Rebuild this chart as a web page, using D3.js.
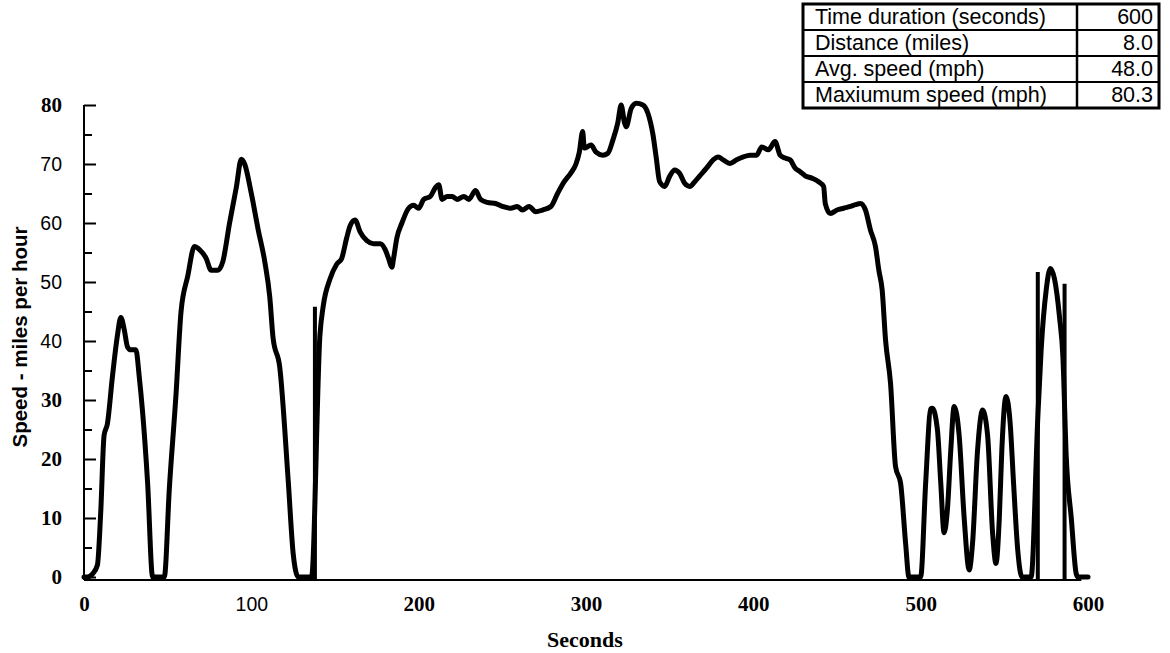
<!DOCTYPE html>
<html>
<head>
<meta charset="UTF-8">
<title>Speed trace</title>
<style>
    body { margin: 0; background: #fff; }
    svg { display: block; background: #fff; }
    .trace { fill: none; stroke: #000; stroke-width: 5px; stroke-linejoin: round; stroke-linecap: round; }
    .spike { stroke: #000; stroke-width: 4px; }
    .axis path, .axis line { stroke: #000; stroke-width: 2px; }
    .serif { font-family: "Liberation Serif", "Times New Roman", serif; font-weight: bold; }
    .sans { font-family: "Liberation Sans", Arial, sans-serif; }
</style>
</head>
<body>
<script src="https://cdnjs.cloudflare.com/ajax/libs/d3/7.8.5/d3.min.js"></script>
<script>
// speed trace
var seconds = [0, 2, 5, 8, 10, 12, 14, 17, 20, 22, 24, 26, 28, 31, 33, 35, 38, 41,
    48, 51, 55, 58, 62, 66, 69, 73, 76, 80, 83, 87, 91, 94, 96, 100, 104, 108, 111, 113, 117, 122, 125, 128,
    136, 141, 143, 147, 151, 154, 157, 159, 162, 165, 169, 173, 177, 180, 182, 184, 185, 187, 190, 194, 197,
    200, 203, 207, 210, 212, 214, 217, 220, 223, 227, 230, 234, 237, 241, 246, 250, 255, 259, 262, 266, 270,
    274, 279, 283, 287, 291, 294, 296, 298, 299, 303, 306, 310, 313, 316, 319, 321, 323, 324, 327, 330, 334,
    337, 340, 342, 344, 347, 350, 353, 356, 359, 362, 365, 368, 372, 376, 379, 382, 386, 390, 394, 398, 402,
    405, 409, 413, 416, 419, 422, 425, 428, 431, 435, 439, 442, 443, 446, 450, 454, 458, 461, 464, 467, 470,
    473, 475, 477, 479, 482, 485, 488, 491, 493,
    500, 503, 506, 507, 510, 512, 514, 516, 518, 520, 523, 526, 529, 531, 534, 537, 540, 543, 545, 547, 548.5,
    551, 553.5, 555.5, 558, 560.5,
    566, 570, 572, 575, 577.5, 580, 583, 585, 587, 590, 593, 594, 600];
var speed = [0, 0, 0.5, 2, 11, 24, 26, 34, 41, 44, 42, 39, 38.5, 38.5, 34, 28, 16, 0,
    0, 15, 31, 45, 51, 56, 55.5, 54, 52, 52, 53.5, 60, 66, 70.8, 70, 65, 59, 53.5, 47.5, 40.5, 35.5, 16.5, 4, 0,
    0, 41, 46, 50.5, 53, 54, 57.5, 59.5, 60.5, 58.5, 57, 56.5, 56.5, 55.5, 54, 52.5, 54, 57.5, 60, 62.5, 63,
    62.5, 64, 64.5, 66, 66.5, 64, 64.5, 64.5, 64, 64.5, 64, 65.5, 64, 63.5, 63.3, 62.8, 62.5, 62.8, 62.2, 62.8, 61.9,
    62.2, 62.8, 65, 67, 68.5, 70, 72, 75.5, 72.7, 73.2, 72, 71.5, 71.8, 74, 77, 80, 77, 76.3, 79.4, 80.3, 80,
    78.6, 75, 71, 67, 66.2, 67.9, 69, 68.4, 66.7, 66.2, 67, 68, 69.3, 70.7, 71.2, 70.7, 70.1, 70.7, 71.2, 71.5, 71.5,
    72.9, 72.4, 73.8, 71.5, 71, 70.7, 69.3, 68.7, 68, 67.6, 67, 66.2, 63.3, 61.6, 62.2, 62.5, 62.8, 63.1, 63.3, 62.2, 58.8,
    56, 52, 48.6, 40.2, 32.8, 18.7, 15.9, 5.7, 0,
    0, 16, 28.5, 28.6, 25, 16, 7.5, 11.5, 21.5, 28.9, 24, 10, 1.2, 5.7, 21.5, 28.3, 24, 7.4, 2.3, 10, 21.5,
    30.6, 26, 16, 4.6, 0,
    0, 27, 38.5, 48.6, 52.3, 50.5, 44, 37.3, 20.4, 10, 0.5, 0, 0];

// vertical glitch lines in the trace
var glitchSeconds = [138, 570, 586];
var glitchSpeed = [45.8, 51.7, 49.7];

var yTicks = [0, 10, 20, 30, 40, 50, 60, 70, 80];
var yMinorTicks = [5, 15, 25, 35, 45, 55, 65, 75];
var xTicks = [0, 100, 200, 300, 400, 500, 600];

var summaryLabels = ["Time duration (seconds)", "Distance (miles)", "Avg. speed (mph)", "Maxiumum speed (mph)"];
var summaryValues = ["600", "8.0", "48.0", "80.3"];

// the scan mixes two typefaces in the tick labels
var sansYTicks = [40, 50, 60, 70];
var sansXTicks = [100];

var W = 1170, H = 653;

var svg = d3.select("body").append("svg")
    .attr("width", W)
    .attr("height", H);

var x = d3.scaleLinear().domain([0, 600]).range([84, 1088]);
var y = d3.scaleLinear().domain([0, 80]).range([577, 105]);

// y axis, ticks pointing inwards
var yAxis = d3.axisLeft(y).tickValues(yTicks).tickSizeInner(-12).tickSizeOuter(0).tickPadding(22);
var gy = svg.append("g")
    .attr("class", "axis")
    .attr("transform", "translate(" + x(0) + ",0)")
    .call(yAxis);
gy.selectAll("text")
    .attr("class", function(d) { return sansYTicks.indexOf(d) >= 0 ? "sans" : "serif"; })
    .attr("font-family", null)
    .style("font-size", function(d) { return sansYTicks.indexOf(d) >= 0 ? "19.5px" : "21px"; })
    .attr("fill", "#000");
gy.select(".domain").attr("d", "M0," + (y(0) + 3) + "V" + y(80));

svg.append("g")
    .attr("class", "axis")
    .attr("transform", "translate(" + x(0) + ",0)")
    .call(d3.axisLeft(y).tickValues(yMinorTicks).tickSizeInner(-8).tickSizeOuter(0).tickFormat(""))
    .select(".domain").remove();

// x axis: line and labels only
var xAxis = d3.axisBottom(x).tickValues(xTicks).tickSize(0).tickPadding(0);
var gx = svg.append("g")
    .attr("class", "axis")
    .attr("transform", "translate(0," + (y(0) + 3) + ")")
    .call(xAxis);
gx.select(".domain").attr("d", "M" + x(0) + ",0H" + x(596));
gx.selectAll("text")
    .attr("class", function(d) { return sansXTicks.indexOf(d) >= 0 ? "sans" : "serif"; })
    .attr("font-family", null)
    .attr("dy", null)
    .attr("y", 31)
    .style("font-size", function(d) { return sansXTicks.indexOf(d) >= 0 ? "19.5px" : "21px"; })
    .attr("fill", "#000");

// axis titles
svg.append("text")
    .attr("class", "sans")
    .attr("transform", "translate(27," + 337 + ") rotate(-90)")
    .attr("text-anchor", "middle")
    .style("font-size", "20.5px")
    .style("font-weight", "bold")
    .text("Speed - miles per hour");

svg.append("text")
    .attr("class", "serif")
    .attr("x", 585)
    .attr("y", 647)
    .attr("text-anchor", "middle")
    .style("font-size", "22px")
    .text("Seconds");

// trace
var pts = seconds.map(function(s, i) { return [s, speed[i]]; });
var line = d3.line()
    .curve(d3.curveMonotoneX)
    .x(function(d) { return x(d[0]); })
    .y(function(d) { return y(d[1]); });

svg.append("path")
    .attr("class", "trace")
    .attr("d", line(pts));

svg.selectAll(".spike")
    .data(glitchSeconds)
    .enter().append("line")
    .attr("class", "spike")
    .attr("x1", function(d) { return x(d); })
    .attr("x2", function(d) { return x(d); })
    .attr("y1", y(0) + 3)
    .attr("y2", function(d, i) { return y(glitchSpeed[i]); });

// summary table
var tx0 = 803, tx1 = 1077, tx2 = 1159, ty0 = 4, rowH = 26;
var table = svg.append("g");
table.selectAll(".row")
    .data(summaryLabels)
    .enter().append("rect")
    .attr("x", tx0)
    .attr("y", function(d, i) { return ty0 + i * rowH; })
    .attr("width", tx2 - tx0)
    .attr("height", rowH)
    .attr("fill", "none")
    .attr("stroke", "#000")
    .attr("stroke-width", 2);
table.append("line")
    .attr("x1", tx1).attr("x2", tx1)
    .attr("y1", ty0).attr("y2", ty0 + rowH * summaryLabels.length)
    .attr("stroke", "#000").attr("stroke-width", 2.5);
table.append("rect")
    .attr("x", tx0).attr("y", ty0)
    .attr("width", tx2 - tx0).attr("height", rowH * summaryLabels.length)
    .attr("fill", "none").attr("stroke", "#000").attr("stroke-width", 3);
table.selectAll(".lbl")
    .data(summaryLabels)
    .enter().append("text")
    .attr("class", "sans")
    .attr("x", tx0 + 12)
    .attr("y", function(d, i) { return ty0 + i * rowH + 20; })
    .style("font-size", "21.5px")
    .text(function(d) { return d; });
table.selectAll(".val")
    .data(summaryValues)
    .enter().append("text")
    .attr("class", "sans")
    .attr("x", tx2 - 6)
    .attr("y", function(d, i) { return ty0 + i * rowH + 20; })
    .attr("text-anchor", "end")
    .style("font-size", "21.5px")
    .text(function(d) { return d; });
</script>
</body>
</html>
